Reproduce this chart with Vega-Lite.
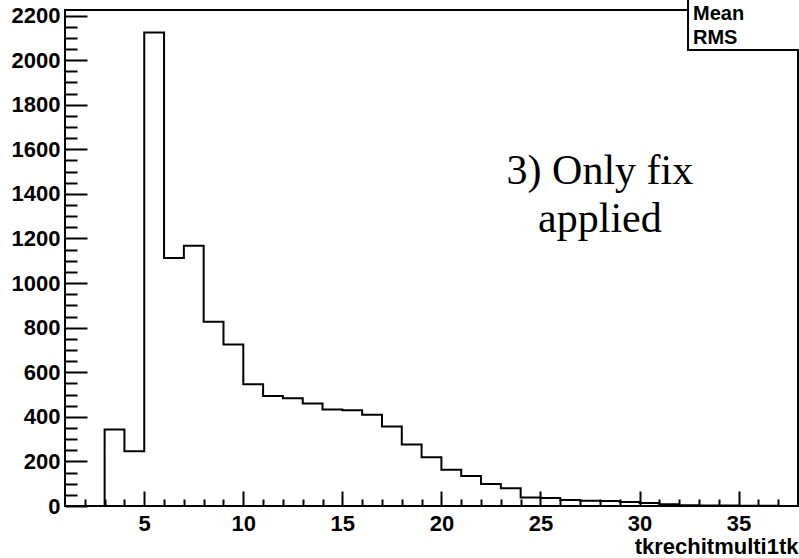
{
  "$schema": "https://vega.github.io/schema/vega-lite/v6.json",
  "width": 733,
  "height": 496,
  "autosize": {"type": "none"},
  "padding": {"left": 65, "top": 10, "right": 1, "bottom": 52},
  "background": "white",
  "config": {
    "view": {"stroke": "black", "strokeWidth": 2, "fill": "white"},
    "axis": {"grid": false, "domain": false, "tickColor": "black", "tickWidth": 2, "labelColor": "black", "labelFont": "Liberation Sans", "labelFontWeight": "bold", "labelFontSize": 22, "titleColor": "black"}
  },
  "datasets": {
    "hist": [
      {"bin": 1, "count": 0}, {"bin": 2, "count": 0}, {"bin": 3, "count": 343}, {"bin": 4, "count": 246},
      {"bin": 5, "count": 2124}, {"bin": 6, "count": 1112}, {"bin": 7, "count": 1167}, {"bin": 8, "count": 827},
      {"bin": 9, "count": 725}, {"bin": 10, "count": 546}, {"bin": 11, "count": 493}, {"bin": 12, "count": 483},
      {"bin": 13, "count": 460}, {"bin": 14, "count": 433}, {"bin": 15, "count": 430}, {"bin": 16, "count": 409},
      {"bin": 17, "count": 357}, {"bin": 18, "count": 276}, {"bin": 19, "count": 219}, {"bin": 20, "count": 163},
      {"bin": 21, "count": 135}, {"bin": 22, "count": 99}, {"bin": 23, "count": 80}, {"bin": 24, "count": 38},
      {"bin": 25, "count": 36}, {"bin": 26, "count": 27}, {"bin": 27, "count": 24}, {"bin": 28, "count": 22},
      {"bin": 29, "count": 18}, {"bin": 30, "count": 14}, {"bin": 31, "count": 8}, {"bin": 32, "count": 3},
      {"bin": 33, "count": 2}, {"bin": 34, "count": 2}, {"bin": 35, "count": 1}, {"bin": 36, "count": 1},
      {"bin": 37, "count": 0}, {"bin": 38, "count": 0}
    ],
    "statbox": [{"bx1": 32.45, "bx2": 40, "by1": 2046, "by2": 2300}],
    "stats": [{"sx": 32.7, "sy": 2180, "label": "Mean"}, {"sx": 32.7, "sy": 2071, "label": "RMS"}],
    "note": [{"nx": 28.0, "ny": 1445, "note": ["3) Only fix", "applied"]}]
  },
  "resolve": {"axis": {"x": "independent", "y": "independent"}},
  "layer": [
    {
      "data": {"name": "hist"},
      "mark": {"type": "line", "interpolate": "step-after", "color": "black", "strokeWidth": 2, "clip": false},
      "encoding": {
        "x": {"field": "bin", "type": "quantitative", "scale": {"domain": [1, 38], "nice": false, "zero": false},
          "axis": {"orient": "bottom", "values": [5, 10, 15, 20, 25, 30, 35], "format": "d", "tickSize": -15, "labelPadding": 22, "title": "tkrechitmulti1tk", "titleFont": "Liberation Sans", "titleFontWeight": "bold", "titleFontSize": 22, "titleX": 733, "titleY": 47, "titleAlign": "right", "titleBaseline": "alphabetic", "titleAnchor": null}},
        "y": {"field": "count", "type": "quantitative", "scale": {"domain": [0, 2225], "nice": false, "zero": false},
          "axis": {"orient": "left", "values": [0, 200, 400, 600, 800, 1000, 1200, 1400, 1600, 1800, 2000, 2200], "format": "d", "tickSize": -22, "labelPadding": 27, "title": null}}
      }
    },
    {
      "data": {"name": "statbox"},
      "mark": {"type": "rect", "fill": "white", "stroke": "black", "strokeWidth": 2, "clip": false},
      "encoding": {
        "x": {"field": "bx1", "type": "quantitative",
          "axis": {"orient": "bottom", "values": [2, 3, 4, 6, 7, 8, 9, 11, 12, 13, 14, 16, 17, 18, 19, 21, 22, 23, 24, 26, 27, 28, 29, 31, 32, 33, 34, 36, 37], "tickSize": -7, "labels": false, "title": null}},
        "x2": {"field": "bx2"},
        "y": {"field": "by1", "type": "quantitative",
          "axis": {"orient": "left", "values": [50, 100, 150, 250, 300, 350, 450, 500, 550, 650, 700, 750, 850, 900, 950, 1050, 1100, 1150, 1250, 1300, 1350, 1450, 1500, 1550, 1650, 1700, 1750, 1850, 1900, 1950, 2050, 2100, 2150], "tickSize": -12, "labels": false, "title": null}},
        "y2": {"field": "by2"}
      }
    },
    {
      "data": {"name": "stats"},
      "mark": {"type": "text", "align": "left", "baseline": "alphabetic", "font": "Liberation Sans", "fontWeight": "bold", "fontSize": 20, "color": "black", "clip": false},
      "encoding": {
        "x": {"field": "sx", "type": "quantitative", "axis": null},
        "y": {"field": "sy", "type": "quantitative", "axis": null},
        "text": {"field": "label"}
      }
    },
    {
      "data": {"name": "note"},
      "mark": {"type": "text", "align": "center", "baseline": "alphabetic", "font": "Liberation Serif", "fontSize": 42, "lineHeight": 48, "color": "black", "clip": false},
      "encoding": {
        "x": {"field": "nx", "type": "quantitative", "axis": null},
        "y": {"field": "ny", "type": "quantitative", "axis": null},
        "text": {"field": "note"}
      }
    }
  ]
}
